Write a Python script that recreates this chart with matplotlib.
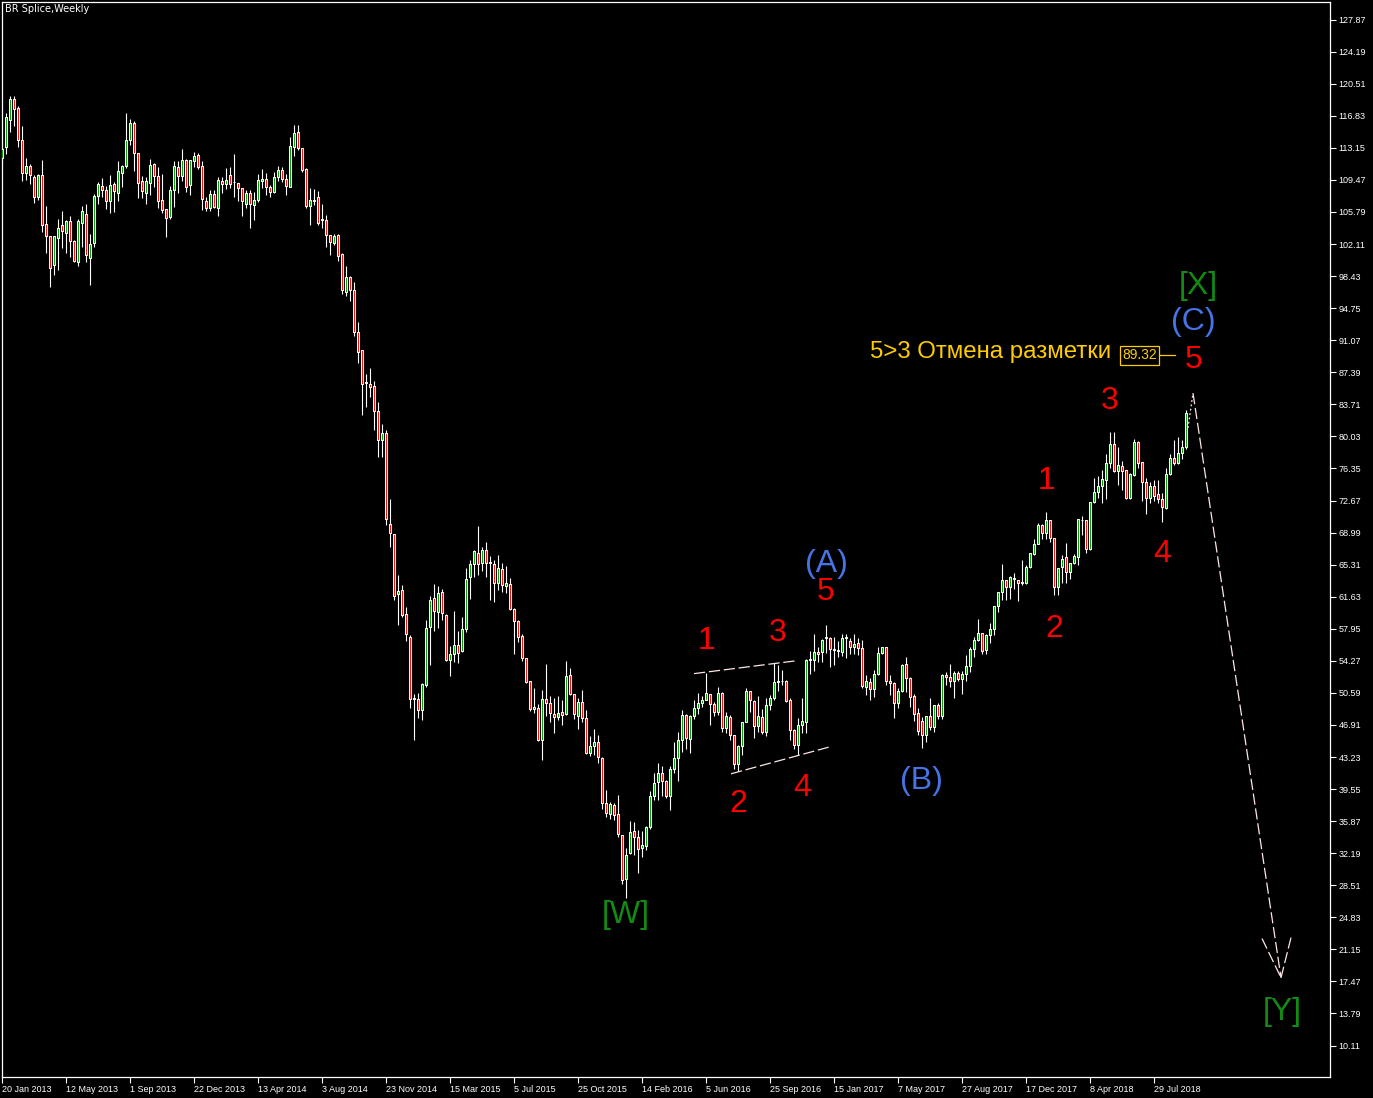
# Import
import matplotlib
matplotlib.use('Agg')
import matplotlib.pyplot as plt

# Weekly BR candles, one per week starting 20 Jan 2013
opens = [
    112.0, 113.2, 116.4, 118.7, 117.7, 114.1, 110.3, 111.1, 109.8, 107.5,
    110.0, 104.4, 103.0, 99.7, 102.8, 104.3, 103.4, 104.7, 102.4, 100.1,
    104.5, 105.6, 100.5, 102.2, 107.6, 108.8, 108.3, 107.0, 109.0, 108.0,
    110.3, 111.1, 114.0, 116.0, 112.6, 109.3, 108.0, 109.1, 111.3, 109.9,
    107.2, 106.1, 105.2, 108.3, 110.9, 109.9, 111.8, 108.9, 111.6, 112.3,
    111.1, 107.1, 106.3, 107.8, 106.3, 109.4, 109.0, 110.0, 109.2, 109.1,
    108.5, 106.7, 108.0, 106.6, 107.2, 109.4, 109.6, 108.6, 108.1, 109.8,
    110.6, 109.6, 108.7, 113.3, 115.0, 113.1, 110.7, 106.5, 107.2, 107.5,
    104.9, 104.9, 103.2, 102.2, 103.1, 101.0, 96.6, 98.3, 96.8, 92.0,
    89.9, 86.2, 86.1, 85.8, 83.0, 79.6, 80.4, 70.0, 68.8, 61.9,
    62.4, 59.6, 57.0, 49.9, 49.9, 48.6, 51.5, 58.1, 61.5, 59.9,
    62.2, 59.5, 54.4, 55.1, 56.1, 55.4, 57.9, 63.9, 65.4, 66.7,
    65.5, 67.0, 65.5, 65.4, 63.2, 64.8, 62.9, 63.1, 60.2, 58.8,
    57.1, 54.6, 51.9, 48.7, 48.8, 45.2, 49.9, 49.4, 48.2, 47.8,
    48.4, 48.2, 52.6, 50.5, 47.9, 49.5, 47.7, 43.7, 44.5, 45.0,
    43.1, 38.0, 36.7, 37.7, 36.7, 34.3, 29.2, 32.2, 34.7, 34.1,
    32.8, 33.0, 35.2, 38.8, 40.4, 41.4, 40.5, 38.7, 41.8, 43.1,
    45.2, 48.0, 45.3, 47.9, 48.8, 49.4, 49.8, 50.5, 49.3, 48.4,
    50.6, 46.6, 47.8, 45.7, 42.4, 44.5, 47.2, 50.8, 49.7, 46.8,
    47.8, 46.1, 49.2, 50.0, 51.8, 52.0, 52.0, 49.8, 46.3, 44.6,
    46.9, 47.2, 54.4, 54.4, 55.3, 55.3, 56.9, 56.9, 55.5, 55.4,
    55.3, 56.9, 56.6, 55.8, 56.3, 55.7, 51.3, 51.8, 51.0, 52.8,
    55.2, 55.8, 52.0, 51.7, 49.4, 50.8, 53.9, 52.3, 50.2, 48.3,
    47.4, 45.7, 47.9, 46.7, 49.2, 47.9, 52.6, 52.4, 52.0, 52.9,
    52.2, 52.7, 53.7, 55.6, 56.7, 57.5, 55.5, 57.2, 57.9, 60.6,
    62.2, 63.5, 62.7, 63.7, 63.6, 63.2, 63.2, 65.0, 66.5, 67.7,
    69.9, 68.9, 70.4, 68.4, 62.8, 65.0, 66.2, 64.5, 65.5, 66.2,
    70.4, 70.4, 67.1, 72.5, 73.7, 74.3, 75.0, 77.0, 79.2, 76.1,
    76.6, 76.2, 73.0, 75.6, 79.4, 77.1, 74.8, 73.0, 74.3, 73.4,
    72.9, 71.8, 75.7, 77.6, 77.0, 78.1, 78.8]

highs = [
    113.2, 117.1, 119.1, 119.1, 118.0, 115.7, 112.0, 111.3, 110.0, 110.2,
    111.8, 106.5, 103.0, 103.0, 105.0, 105.9, 104.9, 105.3, 102.6, 105.0,
    106.5, 106.7, 103.3, 107.9, 109.2, 109.7, 108.8, 110.0, 109.2, 111.6,
    111.2, 117.1, 116.5, 116.2, 112.6, 109.9, 109.8, 111.9, 111.4, 110.9,
    110.2, 106.1, 108.8, 111.6, 111.6, 113.0, 111.9, 111.8, 112.7, 112.6,
    111.6, 107.5, 108.3, 108.3, 109.8, 109.8, 110.8, 111.0, 112.5, 109.1,
    108.5, 108.3, 108.3, 108.1, 110.1, 110.7, 110.3, 108.9, 110.4, 111.1,
    110.9, 110.2, 114.4, 115.8, 115.8, 113.1, 110.8, 108.5, 108.4, 108.2,
    106.7, 105.4, 103.2, 103.3, 103.3, 101.1, 99.6, 98.4, 97.8, 93.2,
    89.9, 87.2, 87.9, 86.4, 84.0, 81.5, 80.8, 72.9, 68.8, 64.1,
    63.0, 60.5, 57.2, 50.5, 50.6, 51.7, 59.0, 61.7, 63.1, 62.9,
    62.5, 59.6, 56.0, 60.0, 57.7, 59.3, 64.9, 65.8, 67.0, 69.7,
    67.3, 67.9, 66.3, 65.8, 66.4, 65.5, 65.1, 63.8, 60.3, 59.0,
    57.3, 54.6, 52.0, 51.2, 49.3, 50.9, 53.9, 50.2, 50.0, 50.2,
    49.8, 54.2, 53.4, 50.5, 50.0, 50.9, 48.6, 45.6, 46.5, 45.8,
    43.2, 39.4, 38.1, 38.0, 38.9, 34.3, 32.8, 35.9, 35.8, 34.9,
    34.7, 35.3, 39.3, 41.4, 42.5, 42.2, 40.6, 42.2, 45.0, 46.1,
    48.6, 48.2, 48.0, 49.8, 50.6, 50.2, 52.9, 50.5, 49.6, 51.3,
    50.7, 48.4, 48.0, 45.7, 44.6, 47.3, 51.1, 50.8, 49.8, 50.2,
    48.7, 50.0, 50.4, 54.0, 53.8, 53.2, 52.1, 50.0, 46.4, 47.7,
    50.0, 54.5, 55.4, 57.3, 55.9, 56.8, 58.4, 57.0, 57.0, 56.5,
    57.4, 57.4, 56.9, 57.3, 56.9, 56.7, 52.6, 52.3, 53.2, 55.8,
    55.9, 55.9, 52.6, 51.8, 51.1, 53.9, 54.7, 52.4, 50.5, 48.8,
    47.8, 47.9, 50.0, 49.2, 49.4, 52.8, 53.0, 53.9, 53.1, 53.1,
    53.1, 54.9, 55.8, 57.0, 59.1, 57.5, 57.3, 58.6, 60.6, 62.2,
    65.4, 63.5, 64.0, 64.3, 63.6, 65.8, 65.3, 66.7, 68.2, 70.1,
    70.0, 71.3, 70.4, 68.4, 64.9, 66.4, 67.8, 65.5, 66.5, 70.6,
    70.9, 70.4, 72.5, 75.3, 75.5, 76.2, 78.0, 80.5, 80.5, 78.8,
    77.2, 76.2, 75.8, 79.7, 79.5, 77.1, 75.3, 74.8, 75.0, 75.0,
    73.5, 76.4, 78.0, 79.6, 80.0, 79.6, 83.1]

lows = [
    111.5, 112.5, 115.0, 115.6, 113.3, 109.4, 109.5, 109.0, 106.8, 107.2,
    103.5, 101.1, 97.2, 98.6, 99.1, 101.6, 101.1, 100.6, 100.0, 99.6,
    101.8, 100.0, 97.4, 101.8, 106.7, 107.5, 106.1, 105.7, 105.8, 107.0,
    108.6, 110.8, 113.5, 110.5, 107.4, 107.4, 106.7, 107.7, 108.7, 106.2,
    105.7, 102.9, 105.0, 106.4, 108.0, 109.3, 108.1, 107.7, 111.0, 110.7,
    106.0, 105.9, 105.9, 106.2, 105.3, 108.0, 108.4, 108.5, 107.5, 107.0,
    105.3, 106.3, 103.9, 104.9, 106.9, 108.5, 107.7, 107.5, 108.0, 109.3,
    109.2, 107.7, 108.6, 112.2, 112.9, 110.4, 106.2, 104.3, 106.6, 104.3,
    104.0, 101.8, 100.9, 102.0, 100.2, 96.4, 96.1, 95.6, 91.5, 88.4,
    82.5, 83.4, 84.5, 80.8, 77.7, 77.7, 69.9, 67.3, 61.2, 58.4,
    59.3, 56.6, 48.8, 45.2, 47.7, 47.5, 51.3, 53.8, 57.7, 58.0,
    59.0, 54.3, 52.5, 54.1, 54.0, 55.3, 57.6, 61.4, 63.9, 64.1,
    64.6, 63.9, 61.3, 61.0, 62.4, 62.2, 62.1, 60.1, 55.1, 56.4,
    54.3, 51.7, 48.5, 48.3, 45.1, 42.9, 47.9, 47.2, 46.0, 47.5,
    46.9, 48.1, 50.4, 47.6, 46.4, 47.3, 43.6, 43.3, 43.5, 42.5,
    37.3, 36.4, 36.1, 36.0, 34.1, 28.7, 27.1, 32.1, 32.0, 29.9,
    31.8, 32.6, 35.0, 38.3, 38.3, 38.8, 38.5, 37.1, 41.4, 40.5,
    43.8, 44.2, 43.7, 47.6, 48.2, 49.0, 49.8, 46.9, 47.9, 48.1,
    46.1, 46.0, 45.2, 41.8, 41.6, 43.5, 47.2, 48.4, 45.4, 46.1,
    45.9, 45.6, 48.6, 49.8, 50.8, 51.5, 49.5, 45.2, 44.2, 43.5,
    46.0, 46.0, 52.8, 53.1, 54.1, 54.1, 55.2, 53.6, 53.8, 54.7,
    54.8, 54.6, 55.1, 55.1, 54.9, 51.1, 50.3, 49.8, 50.1, 52.6,
    55.0, 51.5, 50.4, 47.7, 48.8, 50.7, 50.7, 49.0, 47.4, 45.7,
    44.3, 44.9, 46.3, 46.1, 47.6, 47.6, 51.5, 51.3, 50.0, 52.0,
    50.5, 52.0, 53.0, 54.7, 56.5, 55.1, 55.0, 56.3, 57.2, 59.9,
    61.3, 61.2, 61.4, 62.5, 61.1, 63.0, 63.1, 64.9, 66.4, 67.7,
    68.2, 68.2, 67.9, 61.8, 61.8, 63.2, 63.2, 63.7, 65.4, 65.3,
    68.7, 66.7, 67.0, 72.4, 73.0, 72.4, 72.9, 76.4, 76.0, 74.4,
    73.9, 72.9, 72.8, 75.5, 76.4, 72.6, 71.1, 72.4, 72.6, 72.4,
    70.2, 71.7, 75.6, 76.8, 76.9, 77.4, 78.6]

closes = [
    113.0, 116.7, 118.7, 117.6, 114.0, 110.3, 111.1, 110.0, 107.5, 110.0,
    104.3, 103.0, 99.4, 103.0, 104.0, 103.6, 104.7, 102.4, 100.2, 104.8,
    105.9, 100.9, 102.1, 107.6, 109.0, 108.3, 107.0, 108.9, 108.2, 110.5,
    111.1, 114.0, 116.0, 112.6, 109.1, 108.2, 109.3, 111.2, 109.9, 107.1,
    106.0, 105.1, 108.3, 111.1, 109.9, 111.8, 108.7, 111.8, 112.2, 110.9,
    107.3, 106.3, 107.9, 106.4, 109.5, 109.0, 109.5, 109.0, 109.2, 108.5,
    107.0, 108.0, 106.7, 107.2, 109.5, 109.6, 108.6, 108.1, 109.8, 110.6,
    109.6, 108.8, 113.4, 114.8, 113.1, 110.6, 106.5, 107.2, 107.0, 104.5,
    104.9, 103.1, 102.3, 103.0, 100.7, 96.8, 98.3, 96.8, 92.0, 89.7,
    86.1, 86.2, 85.7, 83.0, 79.6, 80.4, 70.5, 68.9, 61.7, 62.3,
    59.5, 57.4, 49.9, 49.9, 48.6, 51.6, 58.0, 61.3, 60.0, 62.0,
    59.8, 54.4, 55.1, 56.1, 55.2, 57.9, 63.7, 65.4, 66.9, 65.4,
    67.0, 65.5, 65.5, 63.2, 64.9, 63.0, 63.2, 60.2, 58.8, 57.0,
    54.6, 51.8, 48.7, 49.0, 45.2, 49.9, 49.4, 48.3, 47.8, 48.3,
    48.0, 52.5, 50.5, 48.2, 49.5, 47.7, 43.7, 44.5, 45.0, 43.2,
    37.9, 36.8, 37.8, 36.6, 34.4, 29.1, 32.0, 34.6, 34.1, 32.7,
    33.1, 35.2, 38.8, 40.3, 41.4, 40.5, 38.7, 41.8, 43.1, 45.2,
    48.1, 45.4, 47.9, 48.8, 49.4, 49.8, 50.6, 49.3, 48.4, 50.6,
    46.6, 47.9, 45.7, 42.4, 44.5, 47.2, 50.8, 49.8, 46.8, 47.9,
    46.1, 49.2, 50.0, 51.8, 52.0, 51.9, 49.7, 46.3, 44.6, 46.9,
    47.4, 54.4, 54.5, 55.3, 55.1, 56.7, 56.9, 55.6, 55.5, 55.4,
    56.9, 56.9, 55.8, 56.2, 55.7, 51.4, 51.9, 51.0, 52.8, 55.2,
    55.8, 52.0, 51.7, 49.4, 50.8, 53.8, 52.3, 50.1, 48.2, 46.2,
    45.7, 47.9, 46.7, 49.2, 47.9, 52.6, 52.4, 52.0, 52.9, 52.2,
    52.8, 53.7, 55.6, 56.7, 57.5, 55.4, 57.2, 57.9, 60.6, 62.2,
    63.6, 62.7, 63.9, 63.7, 63.2, 63.2, 65.0, 66.7, 67.7, 69.9,
    68.9, 70.4, 68.4, 62.8, 64.9, 66.0, 64.5, 65.5, 66.3, 70.5,
    70.4, 67.1, 72.5, 73.7, 74.3, 75.1, 77.0, 79.2, 76.1, 76.7,
    76.1, 73.0, 75.7, 79.4, 77.0, 74.8, 73.0, 74.3, 73.2, 72.9,
    71.9, 75.7, 77.6, 77.0, 78.1, 78.8, 82.7]

# Axis labels
price_ticks = [127.87, 124.19, 120.51, 116.83, 113.15, 109.47, 105.79, 102.11,
               98.43, 94.75, 91.07, 87.39, 83.71, 80.03, 76.35, 72.67, 68.99,
               65.31, 61.63, 57.95, 54.27, 50.59, 46.91, 43.23, 39.55, 35.87,
               32.19, 28.51, 24.83, 21.15, 17.47, 13.79, 10.11]
date_labels = ['20 Jan 2013', '12 May 2013', '1 Sep 2013', '22 Dec 2013',
               '13 Apr 2014', '3 Aug 2014', '23 Nov 2014', '15 Mar 2015',
               '5 Jul 2015', '25 Oct 2015', '14 Feb 2016', '5 Jun 2016',
               '25 Sep 2016', '15 Jan 2017', '7 May 2017', '27 Aug 2017',
               '17 Dec 2017', '8 Apr 2018', '29 Jul 2018']
date_bars = [16 * i for i in range(len(date_labels))]

# Wave labels: (text, bar, price, colour)
RED = '#FF0000'
BLUE = '#4673E6'
GREEN = '#138A13'
waves = [
    ('[W]', 156, 25.1, GREEN),
    ('1', 176, 56.5, RED), ('2', 184, 37.8, RED), ('3', 194, 57.5, RED),
    ('4', 200, 39.7, RED), ('5', 206, 62.2, RED),
    ('(A)', 206, 65.4, BLUE), ('(B)', 229.75, 40.5, BLUE),
    ('1', 261, 74.9, RED), ('2', 263, 57.9, RED), ('3', 277, 84.1, RED),
    ('4', 290, 66.5, RED), ('5', 298, 88.8, RED),
    ('(C)', 297.75, 93.2, BLUE), ('[X]', 299, 97.3, GREEN),
    ('[Y]', 320, 14.0, GREEN),
]

# Trend lines of the diagonal and the forecast arrow (bar, price)
upper_line = ([173, 199], [52.8, 54.3])
lower_line = ([182.25, 207], [41.3, 44.4])
arrow_from = (297.75, 85.0)
arrow_to = (319.75, 17.9)
wing_left = (315.0, 22.4)
wing_right = (322.25, 22.5)
last_link = ([296.5, 297.75], [81.0, 85.0])
cancel_level = 89.32

W, H = 1373, 1098
fig = plt.figure(figsize=(W / 100, H / 100), dpi=100, facecolor='black')
ax = fig.add_axes([2 / W, 21 / H, 1328 / W, 1075 / H])
ax.set_facecolor('black')

# Wicks then bodies
x = list(range(len(closes)))
ax.vlines(x, lows, highs, color='white', lw=0.8, zorder=2)
for i in x:
    o, c = opens[i], closes[i]
    col = '#009A00' if c >= o else '#FF0000'
    h = max(abs(c - o), 0.08)
    ax.bar(i, h, bottom=min(o, c), width=0.5, color=col, edgecolor='white',
           linewidth=0.75, zorder=3)

# Diagonal and arrow (dashed)
line_col = '#FFE6E6'
ax.plot(*upper_line, color=line_col, lw=0.9, dashes=(9, 3), zorder=4)
ax.plot(*lower_line, color=line_col, lw=0.9, dashes=(9, 3), zorder=4)
ax.plot([arrow_from[0], arrow_to[0]], [arrow_from[1], arrow_to[1]],
        color=line_col, lw=0.9, dashes=(9, 3), zorder=4)
for wx, wy in (wing_left, wing_right):
    ax.plot([wx, arrow_to[0]], [wy, arrow_to[1]], color=line_col, lw=0.9,
            dashes=(9, 3), zorder=4)
ax.plot(*last_link, color=line_col, lw=0.9, dashes=(1.5, 2), zorder=4)

# Wave labels
for txt, bx, py, col in waves:
    ax.text(bx, py, txt, color=col, fontsize=23, family='Liberation Sans',
            ha='center', va='center', zorder=5)

# Cancel level note
GOLD = '#FFCC00'
ax.plot([289, 293.25], [cancel_level, cancel_level], color=GOLD, lw=0.9)
ax.text(288.7, cancel_level, '%.2f' % cancel_level, color=GOLD, fontsize=10,
        family='Liberation Sans', ha='right', va='center',
        bbox=dict(boxstyle='square,pad=0.15', fc='black', ec=GOLD, lw=0.9))
ax.text(277.3, 89.7, '5>3 Отмена разметки', color=GOLD, fontsize=17.3,
        family='Liberation Sans', ha='right', va='center')

# Title
ax.text(0.002, 0.998, 'BR Splice,Weekly', transform=ax.transAxes,
        color='white', fontsize=7, family='DejaVu Sans', ha='left', va='top')

# Axes and frame
ax.set_xlim(0, 332)
ax.set_ylim(6.50, 129.89)
ax.yaxis.tick_right()
ax.set_yticks(price_ticks)
ax.set_yticklabels(['%.2f' % p for p in price_ticks])
ax.set_xticks(date_bars)
ax.set_xticklabels(date_labels, ha='left')
ax.tick_params(colors='white', labelcolor='white', labelsize=6.5, length=4,
               width=0.8, direction='out', pad=2)
for lab in ax.get_xticklabels() + ax.get_yticklabels():
    lab.set_family('Liberation Sans')
for s in ax.spines.values():
    s.set_color('white')
    s.set_linewidth(0.9)

fig.savefig('out.png', dpi=100, facecolor='black')
